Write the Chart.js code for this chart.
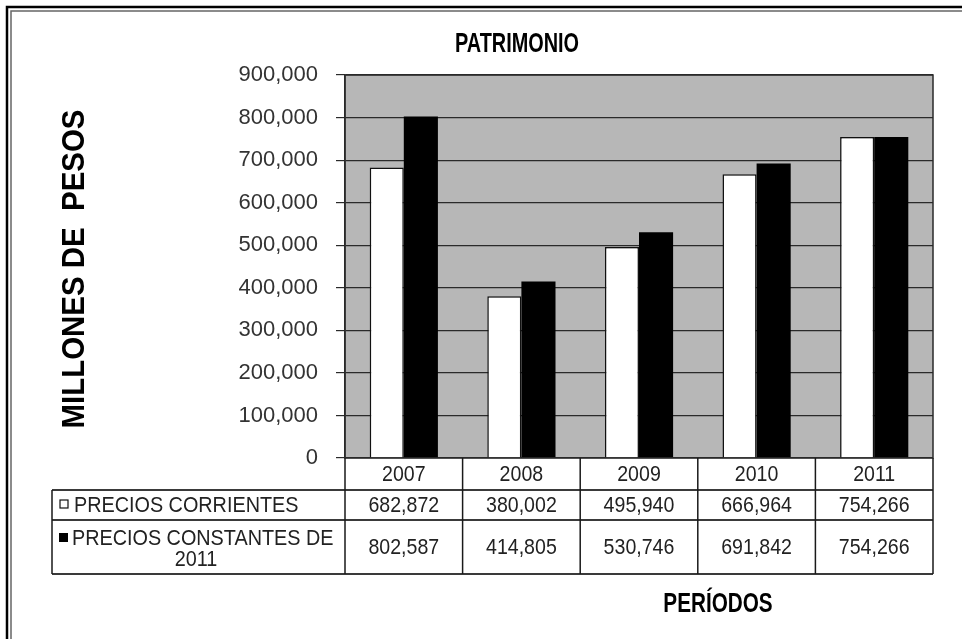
<!DOCTYPE html>
<html>
<head>
<meta charset="utf-8">
<script src="https://cdn.jsdelivr.net/npm/chart.js@4.4.1/dist/chart.umd.min.js"></script>
<style>
  html, body { margin: 0; padding: 0; background: #fff; }
  canvas { display: block; }
</style>
</head>
<body>
<canvas id="patrimonioChart" width="962" height="639"></canvas>
<script>
// Datos del gráfico
const periodos = ['2007', '2008', '2009', '2010', '2011'];
const preciosCorrientes = [682872, 380002, 495940, 666964, 754266];
const preciosConstantes = [802587, 414805, 530746, 691842, 754266];
const etiquetasSeries = ['PRECIOS CORRIENTES', ['PRECIOS CONSTANTES DE', '2011']];

// Eje Y
const ejeMin = 0;
const ejeMax = 900000;
const ejePaso = 100000;

const fuente = 'Liberation Sans, Arial, sans-serif';

function formatoMiles(v) {
  return Number(v).toLocaleString('en-US');
}

// texto comprimido en horizontal
function textoEscalado(ctx, txt, x, y, sx, align) {
  ctx.save();
  ctx.translate(x, y);
  ctx.scale(sx, 1);
  ctx.textAlign = align || 'left';
  ctx.fillText(txt, 0, 0);
  ctx.restore();
}

// Fondo, tabla de datos, títulos y marco
const tablaPlugin = {
  id: 'tablaDatos',
  beforeDraw(chart) {
    const ctx = chart.ctx;
    const a = chart.chartArea;
    ctx.save();
    ctx.fillStyle = '#ffffff';
    ctx.fillRect(0, 0, chart.width, chart.height);
    ctx.fillStyle = '#b7b7b7';
    ctx.fillRect(a.left, a.top, a.right - a.left, a.bottom - a.top);
    ctx.restore();
  },
  afterDraw(chart) {
    const ctx = chart.ctx;
    const a = chart.chartArea;
    const xs = chart.scales.x;
    const n = periodos.length;
    const mitad = (a.right - a.left) / n / 2;

    ctx.save();

    // borde del área de trazado
    ctx.strokeStyle = '#2a2a2a';
    ctx.lineWidth = 1.5;
    ctx.strokeRect(a.left, a.top, a.right - a.left, a.bottom - a.top);

    // filas de la tabla
    const y0 = a.bottom;
    const y1 = 490;
    const y2 = 520;
    const y3 = 574;
    const tablaIzq = 52;

    ctx.strokeStyle = '#3a3a3a';
    ctx.lineWidth = 2;
    ctx.beginPath();
    ctx.moveTo(tablaIzq, y1); ctx.lineTo(a.right, y1);
    ctx.moveTo(tablaIzq, y2); ctx.lineTo(a.right, y2);
    ctx.moveTo(tablaIzq, y3); ctx.lineTo(a.right, y3);
    ctx.stroke();

    ctx.strokeStyle = '#1a1a1a';
    ctx.lineWidth = 1.5;
    ctx.beginPath();
    ctx.moveTo(tablaIzq, y1); ctx.lineTo(tablaIzq, y3);
    for (let i = 0; i <= n; i++) {
      const px = i < n ? xs.getPixelForValue(i) - mitad : xs.getPixelForValue(n - 1) + mitad;
      ctx.moveTo(px, y0); ctx.lineTo(px, y3);
    }
    ctx.stroke();

    // textos de la tabla
    ctx.fillStyle = '#222';
    ctx.font = '22px ' + fuente;
    ctx.textBaseline = 'middle';
    for (let i = 0; i < n; i++) {
      const cx = xs.getPixelForValue(i);
      textoEscalado(ctx, periodos[i], cx, (y0 + y1) / 2 + 1, 0.89, 'center');
      textoEscalado(ctx, formatoMiles(preciosCorrientes[i]), cx, (y1 + y2) / 2 + 1, 0.89, 'center');
      textoEscalado(ctx, formatoMiles(preciosConstantes[i]), cx, (y2 + y3) / 2 + 1, 0.89, 'center');
    }

    // claves de leyenda
    ctx.fillStyle = '#fff';
    ctx.strokeStyle = '#111';
    ctx.lineWidth = 1.2;
    ctx.fillRect(60, 500, 8, 8);
    ctx.strokeRect(60, 500, 8, 8);
    ctx.fillStyle = '#000';
    ctx.fillRect(59, 533, 9, 9);

    ctx.fillStyle = '#222';
    textoEscalado(ctx, etiquetasSeries[0], 74, 506, 0.9, 'left');
    textoEscalado(ctx, etiquetasSeries[1][0], 72, 539, 0.9, 'left');
    textoEscalado(ctx, etiquetasSeries[1][1], 196, 560, 0.9, 'center');

    // título superior
    ctx.fillStyle = '#000';
    ctx.font = 'bold 28px ' + fuente;
    textoEscalado(ctx, 'PATRIMONIO', 517, 44, 0.71, 'center');

    // título del eje X
    textoEscalado(ctx, 'PERÍODOS', 718, 604, 0.74, 'center');

    // título del eje Y
    ctx.font = 'bold 32px ' + fuente;
    ctx.translate(75, 269);
    ctx.rotate(-Math.PI / 2);
    ctx.scale(0.92, 1);
    ctx.textAlign = 'center';
    ctx.fillText('MILLONES DE  PESOS', 0, 0);
    ctx.setTransform(1, 0, 0, 1, 0, 0);

    // marco doble
    ctx.strokeStyle = '#000';
    ctx.lineWidth = 2.5;
    ctx.strokeRect(7, 7, chart.width + 20, chart.height + 20);
    ctx.strokeStyle = '#666';
    ctx.lineWidth = 1.5;
    ctx.strokeRect(11, 11, chart.width + 20, chart.height + 20);

    ctx.restore();
  }
};

const ctxPatrimonio = document.querySelector('#patrimonioChart');
new Chart(ctxPatrimonio, {
  type: 'bar',
  data: {
    labels: periodos,
    datasets: [
      {
        label: 'PRECIOS CORRIENTES',
        data: preciosCorrientes,
        backgroundColor: '#ffffff',
        borderColor: '#111111',
        borderWidth: 1.5,
        categoryPercentage: 0.58,
        barPercentage: 1
      },
      {
        label: 'PRECIOS CONSTANTES DE 2011',
        data: preciosConstantes,
        backgroundColor: '#000000',
        borderColor: '#000000',
        borderWidth: 0,
        categoryPercentage: 0.58,
        barPercentage: 1
      }
    ]
  },
  options: {
    responsive: false,
    animation: false,
    devicePixelRatio: 1,
    layout: { padding: { top: 75, right: 29, bottom: 181, left: 0 } },
    plugins: {
      legend: { display: false },
      title: { display: false },
      tooltip: { enabled: false }
    },
    scales: {
      x: {
        ticks: { display: false },
        grid: { display: false },
        border: { display: false },
        afterFit: s => { s.height = 0; }
      },
      y: {
        min: ejeMin,
        max: ejeMax,
        ticks: {
          stepSize: ejePaso,
          padding: 18,
          color: '#333',
          font: { family: fuente, size: 22 },
          callback: v => formatoMiles(v)
        },
        grid: { color: '#2a2a2a', lineWidth: 1.2, tickLength: 9 },
        border: { display: true, color: '#2a2a2a', width: 1.5 },
        afterFit: s => { s.width = 345; }
      }
    }
  },
  plugins: [tablaPlugin]
});
</script>
</body>
</html>
